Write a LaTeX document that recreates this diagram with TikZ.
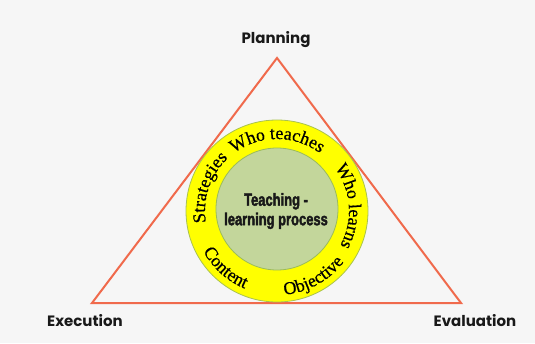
\documentclass[tikz,border=0pt]{standalone}
\usepackage{fontspec}
\setmainfont{Liberation Serif}
\newfontfamily\labelfont{Poppins}
\newfontfamily\corefont[FakeStretch=0.74,FakeBold=2.2]{Liberation Sans Bold}
\newfontfamily\ringfont[FakeBold=0.6]{Liberation Serif}
\usetikzlibrary{decorations.text}
\definecolor{bgcol}{HTML}{F6F6F6}
\definecolor{edgecol}{HTML}{F06A4C}
\definecolor{ringcol}{HTML}{FFFF00}
\definecolor{ringedge}{HTML}{A9C24F}
\definecolor{corecol}{HTML}{C3D69B}
\definecolor{coreedge}{HTML}{9BBB59}
\tikzset{
  cornerlabel/.style={font=\labelfont\bfseries\fontsize{15}{18}\selectfont, text=black!90},
  ringtext/.style={decorate, decoration={text along path, text align=center,
      text={|\ringfont\fontsize{18}{20}\selectfont|#1}}},
}
\begin{document}
\begin{tikzpicture}[x=1pt,y=1pt]
  \fill[bgcol] (0,0) rectangle (535,343);
  \useasboundingbox (0,0) rectangle (535,343);

  % process triangle
  \coordinate (top) at (277,285);
  \coordinate (bl) at (92,40);
  \coordinate (br) at (461,40);
  \draw[edgecol, line width=2pt, line join=miter] (top) -- (bl) -- (br) -- cycle;

  % corner labels
  \node[cornerlabel] (plan) at (276,303) {Planning};
  \node[cornerlabel] (exec) at (85,22) {Execution};
  \node[cornerlabel] (eval) at (475,22) {Evaluation};

  % rings
  \coordinate (c) at (277,132);
  \fill[ringcol, draw=ringedge, line width=0.8pt] (c) circle[radius=91];
  \fill[corecol, draw=coreedge, line width=0.8pt] (277,134) circle[radius=61];

  \node[font=\corefont\fontsize{17.5}{19.5}\selectfont, align=center, text=black!90] (core) at (276,132)
    {Teaching -\\learning process};

  % ring captions: upper ones run clockwise, lower ones counter-clockwise
  \path[ringtext={Strategies}] (c) ++(205:72) arc[start angle=205, end angle=117, radius=72];
  \path[ringtext={Who teaches}] (c) ++(135:72) arc[start angle=135, end angle=45, radius=72];
  \path[ringtext={Who learns}] (c) ++(50:72) arc[start angle=50, end angle=-42, radius=72];
  \path[ringtext={Content}] (c) ++(190:84) arc[start angle=190, end angle=266, radius=84];
  \path[ringtext={Objective}] (c) ++(260:84) arc[start angle=260, end angle=338, radius=84];
\end{tikzpicture}
\end{document}
